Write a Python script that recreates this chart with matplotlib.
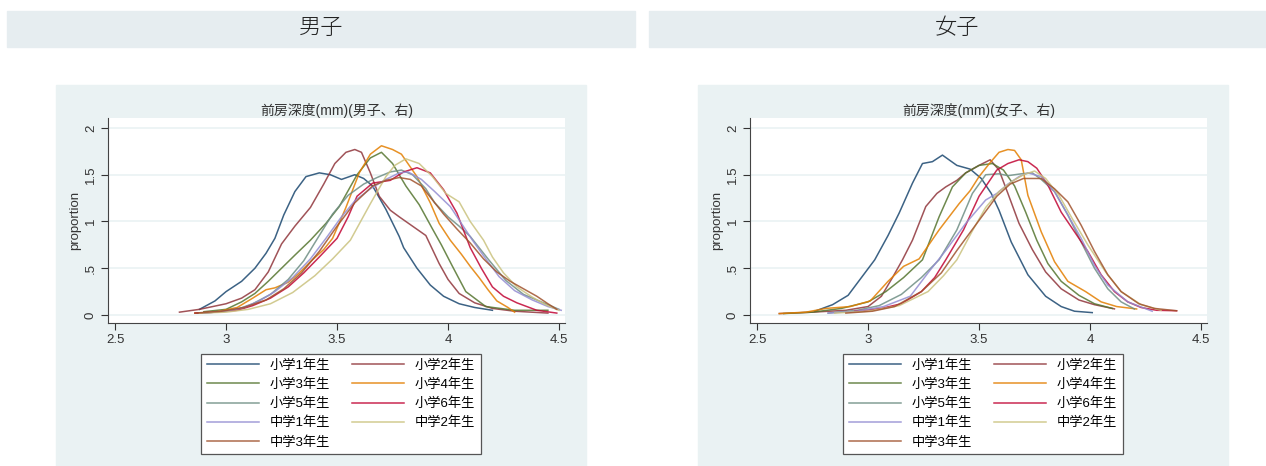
import matplotlib
matplotlib.use('Agg')
import matplotlib.pyplot as plt
from matplotlib.patches import Rectangle

plt.rcParams['font.family'] = ['Liberation Sans', 'Noto Sans CJK JP']

W, H = 1266, 466

grados = ['小学1年生', '小学2年生', '小学3年生', '小学4年生', '小学5年生',
          '小学6年生', '中学1年生', '中学2年生', '中学3年生']
# paleta s2color de Stata
colores = ['#1a476f', '#90353b', '#55752f', '#e37e00', '#6e8e84',
           '#c10534', '#938dd2', '#cac27e', '#a0522d']

# ---- 男子 ----
m1_x = [2.88, 2.95, 3.00, 3.07, 3.13, 3.18, 3.22, 3.26, 3.31, 3.36, 3.42, 3.47, 3.52, 3.58, 3.62, 3.66,
        3.72, 3.78, 3.80, 3.86, 3.92, 3.98, 4.05, 4.12, 4.20]
m1_y = [0.06, 0.15, 0.25, 0.36, 0.50, 0.66, 0.82, 1.07, 1.32, 1.48, 1.52, 1.50, 1.45, 1.50, 1.46, 1.38,
        1.13, 0.84, 0.72, 0.50, 0.32, 0.20, 0.12, 0.08, 0.05]
m2_x = [2.79, 2.88, 3.00, 3.07, 3.13, 3.19, 3.25, 3.31, 3.38, 3.44, 3.49, 3.54, 3.58, 3.61, 3.65, 3.69,
        3.74, 3.78, 3.84, 3.90, 3.96, 4.00, 4.05, 4.12, 4.20, 4.30, 4.45]
m2_y = [0.03, 0.06, 0.12, 0.18, 0.27, 0.46, 0.76, 0.95, 1.15, 1.40, 1.62, 1.74, 1.77, 1.74, 1.52, 1.27,
        1.12, 1.05, 0.95, 0.85, 0.55, 0.38, 0.23, 0.13, 0.07, 0.04, 0.02]
m3_x = [2.90, 3.00, 3.07, 3.13, 3.19, 3.25, 3.31, 3.38, 3.45, 3.51, 3.59, 3.65, 3.70, 3.75, 3.81, 3.87,
        3.93, 3.97, 4.02, 4.08, 4.17, 4.30, 4.45]
m3_y = [0.035, 0.06, 0.14, 0.23, 0.36, 0.50, 0.64, 0.80, 0.98, 1.16, 1.50, 1.68, 1.74, 1.62, 1.38, 1.18,
        0.92, 0.75, 0.52, 0.25, 0.09, 0.05, 0.05]
m4_x = [2.86, 2.95, 3.05, 3.12, 3.18, 3.22, 3.28, 3.33, 3.38, 3.44, 3.48, 3.54, 3.60, 3.65, 3.70, 3.75,
        3.79, 3.86, 3.92, 3.96, 4.01, 4.06, 4.10, 4.14, 4.18, 4.22, 4.27, 4.30]
m4_y = [0.02, 0.03, 0.08, 0.18, 0.27, 0.29, 0.35, 0.45, 0.57, 0.70, 0.82, 1.15, 1.52, 1.72, 1.81, 1.77,
        1.72, 1.48, 1.20, 0.98, 0.80, 0.65, 0.52, 0.40, 0.27, 0.15, 0.08, 0.03]
m5_x = [2.87, 2.95, 3.05, 3.12, 3.20, 3.28, 3.35, 3.42, 3.48, 3.55, 3.62, 3.68, 3.74, 3.79, 3.84, 3.90,
        3.94, 4.00, 4.05, 4.10, 4.18, 4.26, 4.34, 4.44, 4.50]
m5_y = [0.02, 0.03, 0.06, 0.12, 0.22, 0.38, 0.58, 0.85, 1.08, 1.28, 1.40, 1.47, 1.53, 1.55, 1.50, 1.35,
        1.20, 1.05, 0.95, 0.84, 0.60, 0.37, 0.22, 0.12, 0.06]
m6_x = [2.86, 2.95, 3.05, 3.12, 3.20, 3.28, 3.35, 3.42, 3.50, 3.55, 3.59, 3.66, 3.74, 3.80, 3.86, 3.92,
        3.98, 4.04, 4.10, 4.15, 4.20, 4.25, 4.31, 4.40, 4.49]
m6_y = [0.02, 0.03, 0.05, 0.10, 0.18, 0.30, 0.45, 0.62, 0.82, 1.05, 1.27, 1.41, 1.44, 1.53, 1.575, 1.52,
        1.34, 1.09, 0.72, 0.50, 0.30, 0.20, 0.13, 0.05, 0.02]
m7_x = [2.90, 3.00, 3.08, 3.15, 3.22, 3.30, 3.38, 3.45, 3.52, 3.58, 3.65, 3.72, 3.78, 3.82, 3.88, 3.94,
        4.01, 4.06, 4.11, 4.17, 4.23, 4.30, 4.38, 4.45, 4.51]
m7_y = [0.02, 0.04, 0.08, 0.15, 0.25, 0.40, 0.60, 0.82, 1.05, 1.22, 1.35, 1.45, 1.52, 1.53, 1.45, 1.32,
        1.16, 0.98, 0.80, 0.60, 0.41, 0.26, 0.16, 0.09, 0.05]
m8_x = [2.88, 3.00, 3.10, 3.20, 3.30, 3.40, 3.48, 3.56, 3.65, 3.72, 3.76, 3.81, 3.87, 3.93, 3.99, 4.05,
        4.10, 4.16, 4.20, 4.25, 4.31, 4.38, 4.44, 4.50]
m8_y = [0.02, 0.03, 0.06, 0.12, 0.24, 0.42, 0.60, 0.80, 1.19, 1.48, 1.60, 1.67, 1.62, 1.48, 1.30, 1.21,
        1.00, 0.80, 0.62, 0.45, 0.30, 0.19, 0.11, 0.05]
m9_x = [2.86, 2.98, 3.08, 3.18, 3.26, 3.34, 3.42, 3.50, 3.58, 3.66, 3.72, 3.78, 3.83, 3.88, 3.93, 3.98,
        4.04, 4.10, 4.16, 4.22, 4.28, 4.34, 4.40, 4.45, 4.49]
m9_y = [0.02, 0.04, 0.08, 0.16, 0.28, 0.45, 0.68, 0.95, 1.20, 1.38, 1.44, 1.47, 1.45, 1.38, 1.23, 1.08,
        0.92, 0.77, 0.60, 0.46, 0.36, 0.28, 0.20, 0.12, 0.06]

# ---- 女子 ----
f1_x = [2.76, 2.84, 2.91, 2.97, 3.03, 3.09, 3.14, 3.20, 3.245, 3.29, 3.335, 3.40, 3.46, 3.51, 3.555,
        3.59, 3.645, 3.72, 3.80, 3.87, 3.93, 4.01]
f1_y = [0.04, 0.11, 0.21, 0.40, 0.59, 0.85, 1.09, 1.41, 1.62, 1.64, 1.71, 1.60, 1.56, 1.46, 1.30,
        1.12, 0.78, 0.43, 0.20, 0.09, 0.04, 0.025]
f2_x = [2.60, 2.75, 2.90, 3.00, 3.06, 3.11, 3.155, 3.20, 3.26, 3.31, 3.35, 3.40, 3.44, 3.50, 3.55, 3.59,
        3.63, 3.68, 3.74, 3.80, 3.87, 3.95, 4.02, 4.11]
f2_y = [0.015, 0.03, 0.05, 0.09, 0.20, 0.40, 0.59, 0.80, 1.16, 1.30, 1.37, 1.44, 1.52, 1.60, 1.66, 1.55,
        1.30, 0.98, 0.70, 0.46, 0.28, 0.16, 0.11, 0.065]
f3_x = [2.62, 2.75, 2.88, 3.00, 3.08, 3.16, 3.245, 3.32, 3.38, 3.44, 3.50, 3.56, 3.61, 3.66, 3.71, 3.76,
        3.81, 3.87, 3.95, 4.02, 4.10]
f3_y = [0.015, 0.03, 0.07, 0.14, 0.25, 0.40, 0.59, 1.05, 1.37, 1.52, 1.60, 1.62, 1.55, 1.38, 1.10, 0.80,
        0.55, 0.36, 0.21, 0.12, 0.07]
f4_x = [2.60, 2.72, 2.81, 2.92, 3.01, 3.09, 3.16, 3.23, 3.32, 3.41, 3.46, 3.50, 3.55, 3.59, 3.63, 3.66,
        3.69, 3.72, 3.78, 3.84, 3.90, 3.98, 4.05, 4.12, 4.21]
f4_y = [0.015, 0.03, 0.07, 0.09, 0.15, 0.36, 0.52, 0.60, 0.91, 1.19, 1.33, 1.48, 1.63, 1.74, 1.77, 1.76,
        1.66, 1.28, 0.89, 0.57, 0.36, 0.25, 0.14, 0.09, 0.064]
f5_x = [2.82, 2.95, 3.05, 3.15, 3.24, 3.32, 3.40, 3.47, 3.53, 3.59, 3.63, 3.69, 3.74, 3.78, 3.84, 3.90,
        3.96, 4.02, 4.08, 4.14, 4.20]
f5_y = [0.02, 0.05, 0.10, 0.22, 0.40, 0.59, 0.91, 1.30, 1.50, 1.51, 1.49, 1.51, 1.52, 1.45, 1.32, 1.07,
        0.78, 0.50, 0.28, 0.14, 0.064]
f6_x = [2.94, 3.06, 3.15, 3.24, 3.30, 3.35, 3.43, 3.50, 3.58, 3.63, 3.68, 3.72, 3.76, 3.81, 3.87, 3.93,
        3.99, 4.05, 4.11, 4.17, 4.23, 4.30, 4.39]
f6_y = [0.04, 0.07, 0.12, 0.25, 0.40, 0.59, 0.91, 1.27, 1.55, 1.62, 1.66, 1.64, 1.57, 1.39, 1.10, 0.89,
        0.68, 0.43, 0.25, 0.14, 0.08, 0.05, 0.045]
f7_x = [2.82, 2.95, 3.07, 3.19, 3.27, 3.35, 3.44, 3.53, 3.58, 3.63, 3.68, 3.72, 3.78, 3.84, 3.90, 3.96,
        4.02, 4.08, 4.17, 4.28]
f7_y = [0.02, 0.04, 0.09, 0.20, 0.45, 0.69, 0.98, 1.23, 1.30, 1.40, 1.48, 1.52, 1.48, 1.32, 1.07, 0.82,
        0.53, 0.32, 0.14, 0.04]
f8_x = [2.85, 3.00, 3.14, 3.27, 3.34, 3.40, 3.47, 3.53, 3.59, 3.65, 3.70, 3.75, 3.80, 3.86, 3.92, 3.99,
        4.07, 4.14, 4.23, 4.32]
f8_y = [0.02, 0.04, 0.10, 0.25, 0.42, 0.59, 0.90, 1.15, 1.32, 1.43, 1.50, 1.54, 1.46, 1.28, 1.03, 0.75,
        0.46, 0.25, 0.11, 0.05]
f9_x = [2.90, 3.02, 3.12, 3.24, 3.33, 3.40, 3.49, 3.58, 3.64, 3.70, 3.78, 3.84, 3.90, 3.96, 4.02, 4.08,
        4.14, 4.22, 4.29, 4.39]
f9_y = [0.02, 0.04, 0.09, 0.25, 0.45, 0.69, 0.98, 1.27, 1.40, 1.46, 1.46, 1.35, 1.21, 0.96, 0.68, 0.43,
        0.25, 0.12, 0.07, 0.045]

m_xs = [m1_x, m2_x, m3_x, m4_x, m5_x, m6_x, m7_x, m8_x, m9_x]
m_ys = [m1_y, m2_y, m3_y, m4_y, m5_y, m6_y, m7_y, m8_y, m9_y]
f_xs = [f1_x, f2_x, f3_x, f4_x, f5_x, f6_x, f7_x, f8_x, f9_x]
f_ys = [f1_y, f2_y, f3_y, f4_y, f5_y, f6_y, f7_y, f8_y, f9_y]

x_ticks = [2.5, 3, 3.5, 4, 4.5]
x_labels = ['2.5', '3', '3.5', '4', '4.5']
y_ticks = [0, 0.5, 1, 1.5, 2]
y_labels = ['0', '.5', '1', '1.5', '2']

fondo = '#eaf2f3'
cabecera = '#e6edf0'

# orden de la leyenda: llenado por filas como en Stata
orden_leyenda = [0, 2, 4, 6, 8, 1, 3, 5, 7]


def panel(fig, izq, xs, ys, titulo, encabezado, cab_x, cab_w):
    # barra de encabezado
    fig.add_artist(Rectangle((cab_x / W, 1 - 47 / H), cab_w / W, 36 / H,
                             transform=fig.transFigure, color=cabecera, zorder=0))
    fig.text((cab_x + cab_w / 2) / W, 1 - 29 / H, encabezado, ha='center', va='center',
             fontsize=16, fontweight='light', color='#222222')
    # fondo del grafico
    fig.add_artist(Rectangle((izq / W, 0), 530 / W, (466 - 85) / H,
                             transform=fig.transFigure, color=fondo, zorder=0))

    ax = fig.add_axes([(izq + 52) / W, (466 - 323) / H, 457 / W, 205 / H])
    ax.set_facecolor('white')
    lineas = []
    for i in range(len(xs)):
        l, = ax.plot(xs[i], ys[i], color=colores[i], lw=1.1, alpha=0.85, label=grados[i])
        lineas.append(l)

    ax.set_xlim(2.468, 4.527)
    ax.set_ylim(-0.086, 2.107)
    ax.set_xticks(x_ticks)
    ax.set_xticklabels(x_labels)
    ax.set_yticks(y_ticks)
    ax.set_yticklabels(y_labels, rotation=90, va='center')
    ax.tick_params(direction='out', length=5, width=0.8, colors='#333333',
                   labelsize=9.5, pad=3)
    ax.grid(axis='y', color=fondo, lw=1.2)
    ax.set_axisbelow(True)
    for s in ['top', 'right']:
        ax.spines[s].set_visible(False)
    for s in ['left', 'bottom']:
        ax.spines[s].set_color('#444444')
        ax.spines[s].set_linewidth(0.8)

    ax.set_title(titulo, fontsize=10, color='#333333', pad=2)
    ax.set_ylabel('proportion', fontsize=9.5, color='#333333', labelpad=3)

    hs = [lineas[i] for i in orden_leyenda]
    ls = [grados[i] for i in orden_leyenda]
    leg = ax.legend(hs, ls, loc='upper center', bbox_to_anchor=((izq + 285) / W, (466 - 354) / H),
                    bbox_transform=fig.transFigure, ncol=2, fontsize=9.5,
                    handlelength=4, handletextpad=0.8, columnspacing=1.6,
                    labelspacing=0.5, borderpad=0.4, borderaxespad=0,
                    frameon=True, fancybox=False, edgecolor='#555555', framealpha=1)
    leg.get_frame().set_linewidth(0.9)
    return ax


fig = plt.figure(figsize=(W / 100, H / 100), dpi=100)
fig.patch.set_facecolor('white')

panel(fig, 56, m_xs, m_ys, '前房深度(mm)(男子、右)', '男子', 7, 628)
panel(fig, 698, f_xs, f_ys, '前房深度(mm)(女子、右)', '女子', 649, 617)

fig.savefig('out.png', dpi=100)
